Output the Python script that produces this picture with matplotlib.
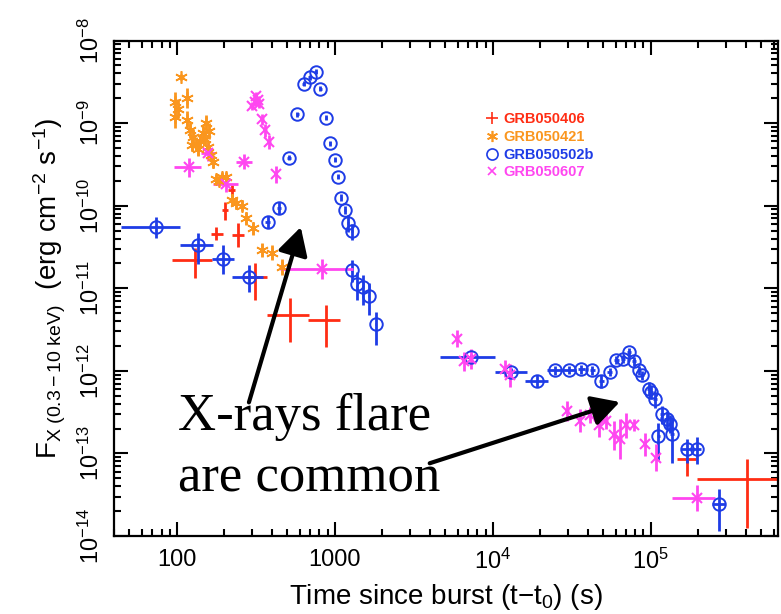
import numpy as np
import matplotlib
matplotlib.use('Agg')
import matplotlib.pyplot as plt
from matplotlib.lines import Line2D
from matplotlib.ticker import FuncFormatter, LogLocator, NullFormatter

plt.rcParams['font.family'] = ['Liberation Sans', 'DejaVu Sans']
plt.rcParams['mathtext.fontset'] = 'custom'
plt.rcParams['mathtext.rm'] = 'Liberation Sans'
plt.rcParams['mathtext.it'] = 'Liberation Sans:italic'
plt.rcParams['mathtext.default'] = 'regular'

# GRB050406 (red crosses)
t_406 = [130, 178, 201, 222, 244, 312, 519, 885, 1.71e5, 4.08e5]
t_406_lo = [92.6, 164, 193, 210, 225, 262, 370, 677, 1.47e5, 1.97e5]
t_406_hi = [166, 196, 210, 235, 265, 372, 687, 1084, 1.95e5, 6.5e5]
f_406 = [2.2e-11, 4.6e-11, 8.8e-11, 1.54e-10, 4.4e-11, 1.38e-11, 4.7e-12, 4.1e-12, 8.6e-14, 4.93e-14]
f_406_lo = [1.32e-11, 3.8e-11, 6.7e-11, 1.26e-10, 3.2e-11, 7.2e-12, 2.24e-12, 1.95e-12, 5.4e-14, 1.26e-14]
f_406_hi = [3.05e-11, 5.5e-11, 1.11e-10, 1.78e-10, 6.2e-11, 2.0e-11, 7.6e-12, 6.3e-12, 8.8e-14, 8.6e-14]

# GRB050421 (orange asterisks)
t_421 = [107, 98, 97, 101, 116, 116, 121, 124, 127, 133, 137, 140, 146, 150, 154, 157,
         160, 165, 169, 178, 185, 192, 206, 222, 238, 257, 276, 304, 347, 400, 460]
f_421 = [3.6e-9, 1.8e-9, 1.2e-9, 1.5e-9, 2.0e-9, 1.1e-9, 8.2e-10, 5.5e-10, 6.8e-10, 5.6e-10, 4.8e-10,
         6.1e-10, 7.5e-10, 6.5e-10, 1.0e-9, 5.1e-10, 8.0e-10, 4.1e-10, 3.4e-10, 2.1e-10, 2.0e-10,
         2.2e-10, 2.2e-10, 1.17e-10, 1.07e-10, 1.0e-10, 7.0e-11, 5.3e-11, 2.9e-11, 2.7e-11, 1.8e-11]
dex_421 = [0.04, 0.12, 0.14, 0.12, 0.12, 0.1, 0.1, 0.08, 0.1, 0.08, 0.08, 0.08, 0.1, 0.08, 0.1, 0.08,
           0.1, 0.08, 0.08, 0.06, 0.06, 0.06, 0.06, 0.07, 0.07, 0.07, 0.08, 0.08, 0.09, 0.09, 0.1]
dt_421 = 0.03

# GRB050502b (blue circles)
t_502 = [74, 136, 196, 285, 375, 443, 512, 580, 637, 695, 758, 811, 877, 929, 1000, 1050,
         1102, 1157, 1214, 1287, 1276, 1392, 1511, 1641, 1816,
         7330, 1.31e4, 1.9e4, 2.47e4, 3.05e4, 3.64e4, 4.28e4, 4.88e4, 5.5e4, 6.07e4, 6.68e4,
         7.27e4, 7.85e4, 8.45e4, 8.87e4, 9.78e4, 1.0e5, 1.07e5, 1.12e5, 1.18e5, 1.26e5, 1.32e5,
         1.37e5, 1.7e5, 1.96e5, 2.7e5]
t_502_lo = [44, 105, 166, 223, 362, 428, 497, 565, 622, 680, 743, 796, 862, 914, 985, 1035,
            1087, 1142, 1199, 1272, 1261, 1377, 1496, 1626, 1801,
            4620, 1.03e4, 1.59e4, 2.2e4, 2.75e4, 3.45e4, 4.1e4, 4.7e4, 5.3e4, 5.85e4, 6.45e4,
            7.05e4, 7.6e4, 8.2e4, 8.6e4, 9.5e4, 9.7e4, 1.04e5, 1.09e5, 1.15e5, 1.22e5, 1.28e5,
            1.33e5, 1.56e5, 1.85e5, 2.45e5]
t_502_hi = [105, 170, 229, 350, 388, 458, 527, 595, 652, 710, 773, 826, 892, 944, 1015, 1065,
            1117, 1172, 1229, 1302, 1291, 1407, 1526, 1656, 1831,
            1.03e4, 1.65e4, 2.23e4, 2.8e4, 3.35e4, 3.85e4, 4.45e4, 5.05e4, 5.7e4, 6.3e4, 6.9e4,
            7.5e4, 8.1e4, 8.7e4, 9.1e4, 1.0e5, 1.03e5, 1.1e5, 1.15e5, 1.21e5, 1.3e5, 1.36e5,
            1.41e5, 1.87e5, 2.08e5, 2.97e5]
f_502 = [5.45e-11, 3.3e-11, 2.23e-11, 1.35e-11, 6.3e-11, 9.4e-11, 3.8e-10, 1.28e-9, 3.0e-9, 3.6e-9,
         4.2e-9, 2.6e-9, 1.16e-9, 5.7e-10, 3.6e-10, 2.24e-10, 1.25e-10, 8.8e-11, 6.1e-11, 5.0e-11,
         1.65e-11, 1.14e-11, 1.04e-11, 8.1e-12, 3.7e-12,
         1.47e-12, 9.7e-13, 7.5e-13, 1.01e-12, 1.03e-12, 1.04e-12, 1.01e-12, 7.5e-13, 9.7e-13,
         1.34e-12, 1.4e-12, 1.69e-12, 1.3e-12, 1.01e-12, 8.8e-13, 6.1e-13, 5.5e-13, 4.5e-13,
         1.61e-13, 3.0e-13, 2.6e-13, 2.3e-13, 1.74e-13, 1.12e-13, 1.14e-13, 2.45e-14]
dex_502_up = [0.13, 0.15, 0.17, 0.15, 0.07, 0.07, 0.03, 0.03, 0.03, 0.03, 0.03, 0.03, 0.03, 0.03,
              0.03, 0.03, 0.04, 0.05, 0.1, 0.08, 0.12, 0.14, 0.14, 0.15, 0.15,
              0.04, 0.05, 0.07, 0.05, 0.05, 0.05, 0.05, 0.08, 0.05, 0.05, 0.05, 0.05, 0.05, 0.05,
              0.05, 0.08, 0.08, 0.08, 0.16, 0.1, 0.1, 0.1, 0.2, 0.13, 0.14, 0.18]
dex_502_dn = [0.13, 0.22, 0.17, 0.17, 0.07, 0.07, 0.03, 0.03, 0.03, 0.03, 0.03, 0.03, 0.03, 0.03,
              0.03, 0.03, 0.04, 0.05, 0.1, 0.12, 0.14, 0.2, 0.22, 0.23, 0.25,
              0.04, 0.05, 0.07, 0.05, 0.05, 0.05, 0.05, 0.08, 0.05, 0.05, 0.05, 0.05, 0.05, 0.05,
              0.05, 0.08, 0.08, 0.1, 0.29, 0.12, 0.12, 0.12, 0.36, 0.17, 0.18, 0.33]

# GRB050607 (magenta crosses)
t_607 = [120, 158, 206, 267, 300, 312, 318, 325, 330, 347, 364, 384, 423, 824,
         5940, 6550, 7330, 1.19e4, 1.29e4, 2.96e4, 3.55e4, 4.11e4, 4.71e4, 5.25e4, 5.84e4,
         6.43e4, 7.02e4, 7.8e4, 9.17e4, 1.08e5, 1.97e5]
t_607_lo = [96, 143, 170, 238, 294, 306, 312, 319, 324, 340, 357, 376, 414, 449,
            5800, 6400, 7150, 1.16e4, 1.26e4, 2.9e4, 3.48e4, 4.03e4, 4.62e4, 5.15e4, 5.73e4,
            6.3e4, 6.88e4, 7.65e4, 9.0e4, 1.06e5, 1.37e5]
t_607_hi = [143, 174, 243, 297, 306, 318, 324, 331, 336, 354, 371, 392, 432, 1301,
            6080, 6700, 7500, 1.22e4, 1.32e4, 3.02e4, 3.62e4, 4.19e4, 4.8e4, 5.35e4, 5.95e4,
            6.56e4, 7.16e4, 7.95e4, 9.35e4, 1.1e5, 2.57e5]
f_607 = [2.9e-10, 4.4e-10, 1.82e-10, 3.4e-10, 1.6e-9, 1.8e-9, 2.1e-9, 1.9e-9, 1.7e-9, 1.11e-9,
         8.2e-10, 5.9e-10, 2.4e-10, 1.73e-11, 2.45e-12, 1.3e-12, 1.4e-12, 1.06e-12, 8.8e-13,
         3.3e-13, 2.5e-13, 2.9e-13, 2.2e-13, 2.5e-13, 1.65e-13, 1.5e-13, 2.2e-13, 2.2e-13,
         1.29e-13, 8.9e-14, 2.9e-14]
dex_607 = [0.11, 0.1, 0.1, 0.09, 0.05, 0.05, 0.05, 0.05, 0.05, 0.07, 0.08, 0.09, 0.1, 0.12,
           0.1, 0.12, 0.12, 0.1, 0.14, 0.12, 0.14, 0.1, 0.14, 0.1, 0.18, 0.24, 0.15, 0.07,
           0.14, 0.16, 0.16]

names = ['GRB050406', 'GRB050421', 'GRB050502b', 'GRB050607']
colors = ['#ff2d14', '#fa961e', '#1e3ce6', '#ff46f0']

fig = plt.figure(figsize=(7.81, 6.14), dpi=100)
ax = fig.add_axes([114 / 781, 78 / 614, 664 / 781, 495.5 / 614])
ax.set_xscale('log')
ax.set_yscale('log')


def asym(vals, lo, hi):
    v = np.asarray(vals, float)
    return [v - np.asarray(lo, float), np.asarray(hi, float) - v]


def dexerr(vals, dn, up):
    v = np.asarray(vals, float)
    return [v - v * 10.0 ** (-np.asarray(dn, float)), v * 10.0 ** np.asarray(up, float) - v]


ekw = dict(ls='none', elinewidth=2.0, capsize=0)

ax.errorbar(t_406, f_406, xerr=asym(t_406, t_406_lo, t_406_hi),
            yerr=asym(f_406, f_406_lo, f_406_hi), color=colors[0], marker='none', **ekw)

t4 = np.asarray(t_421, float)
ax.errorbar(t_421, f_421, xerr=[t4 * dt_421, t4 * dt_421], yerr=dexerr(f_421, dex_421, dex_421),
            color=colors[1], marker=(6, 2, 0), ms=9, mew=1.2, **ekw)

ax.errorbar(t_502, f_502, xerr=asym(t_502, t_502_lo, t_502_hi),
            yerr=dexerr(f_502, dex_502_dn, dex_502_up), color=colors[2], marker='o',
            mfc='none', ms=9, mew=1.4, **ekw)

ax.errorbar(t_607, f_607, xerr=asym(t_607, t_607_lo, t_607_hi),
            yerr=dexerr(f_607, dex_607, dex_607), color=colors[3], marker='x', ms=7, mew=1.5, **ekw)

# ticks, PGPLOT style: inside on all sides
ax.set_xticks([100, 1000, 1e4, 1e5])
ax.xaxis.set_minor_locator(LogLocator(base=10, subs=np.arange(2, 10), numticks=20))
ax.xaxis.set_minor_formatter(NullFormatter())
ax.xaxis.set_major_formatter(FuncFormatter(
    lambda v, _: f'{int(round(v))}' if v < 1e4 else r'$10^{%d}$' % int(round(np.log10(v)))))
ax.set_yticks(10.0 ** np.arange(-14, -7))
ax.yaxis.set_minor_locator(LogLocator(base=10, subs=np.arange(2, 10), numticks=20))
ax.yaxis.set_minor_formatter(NullFormatter())
ax.yaxis.set_major_formatter(FuncFormatter(lambda v, _: r'$10^{%d}$' % int(round(np.log10(v)))))
ax.set_xlim(40, 6.4e5)
ax.set_ylim(1e-14, 1e-8)

ax.tick_params(which='both', direction='in', top=True, right=True, width=1.5, labelsize=17)
ax.tick_params(which='major', length=10)
ax.tick_params(which='minor', length=5)
ax.tick_params(axis='x', pad=9)
ax.tick_params(axis='y', pad=7, labelrotation=90)
for lbl in ax.get_yticklabels():
    lbl.set_va('center')
for s in ax.spines.values():
    s.set_linewidth(1.6)

ax.set_xlabel(r'Time since burst (t$-$t$_0$) (s)', fontsize=20, labelpad=6)
ax.set_ylabel(r'F$_{\rm X\ (0.3-10\ keV)}$  (erg cm$^{-2}$ s$^{-1}$)', fontsize=20, labelpad=8)

# legend
handles = [Line2D([], [], ls='none', marker='+', color=colors[0], ms=9, mew=1.2),
           Line2D([], [], ls='none', marker=(6, 2, 0), color=colors[1], ms=8, mew=1.2),
           Line2D([], [], ls='none', marker='o', mfc='none', color=colors[2], ms=8, mew=1.2),
           Line2D([], [], ls='none', marker='x', color=colors[3], ms=6, mew=1.2)]
ax.legend(handles, names, loc='upper left', bbox_to_anchor=(0.56, 0.855), frameon=False,
          borderpad=0, borderaxespad=0, handlelength=0.8, handletextpad=0.4, labelspacing=0.25,
          prop={'weight': 'bold', 'size': 10.5}, labelcolor=colors)

# annotation
ax.text(0.096, 0.214, 'X-rays flare', transform=ax.transAxes, fontsize=38,
        family='Liberation Serif', va='baseline', ha='left')
ax.text(0.096, 0.089, 'are common', transform=ax.transAxes, fontsize=38,
        family='Liberation Serif', va='baseline', ha='left')
arrow = dict(arrowstyle='-|>,head_length=0.42,head_width=0.23', color='black', lw=3,
             mutation_scale=40, shrinkA=0, shrinkB=0)
ax.annotate('', xy=(609, 5.5e-11), xytext=(286, 4.15e-13), arrowprops=arrow)
ax.annotate('', xy=(6.37e4, 4.19e-13), xytext=(3990, 7.6e-14), arrowprops=arrow)

fig.savefig('out.png', dpi=100)
